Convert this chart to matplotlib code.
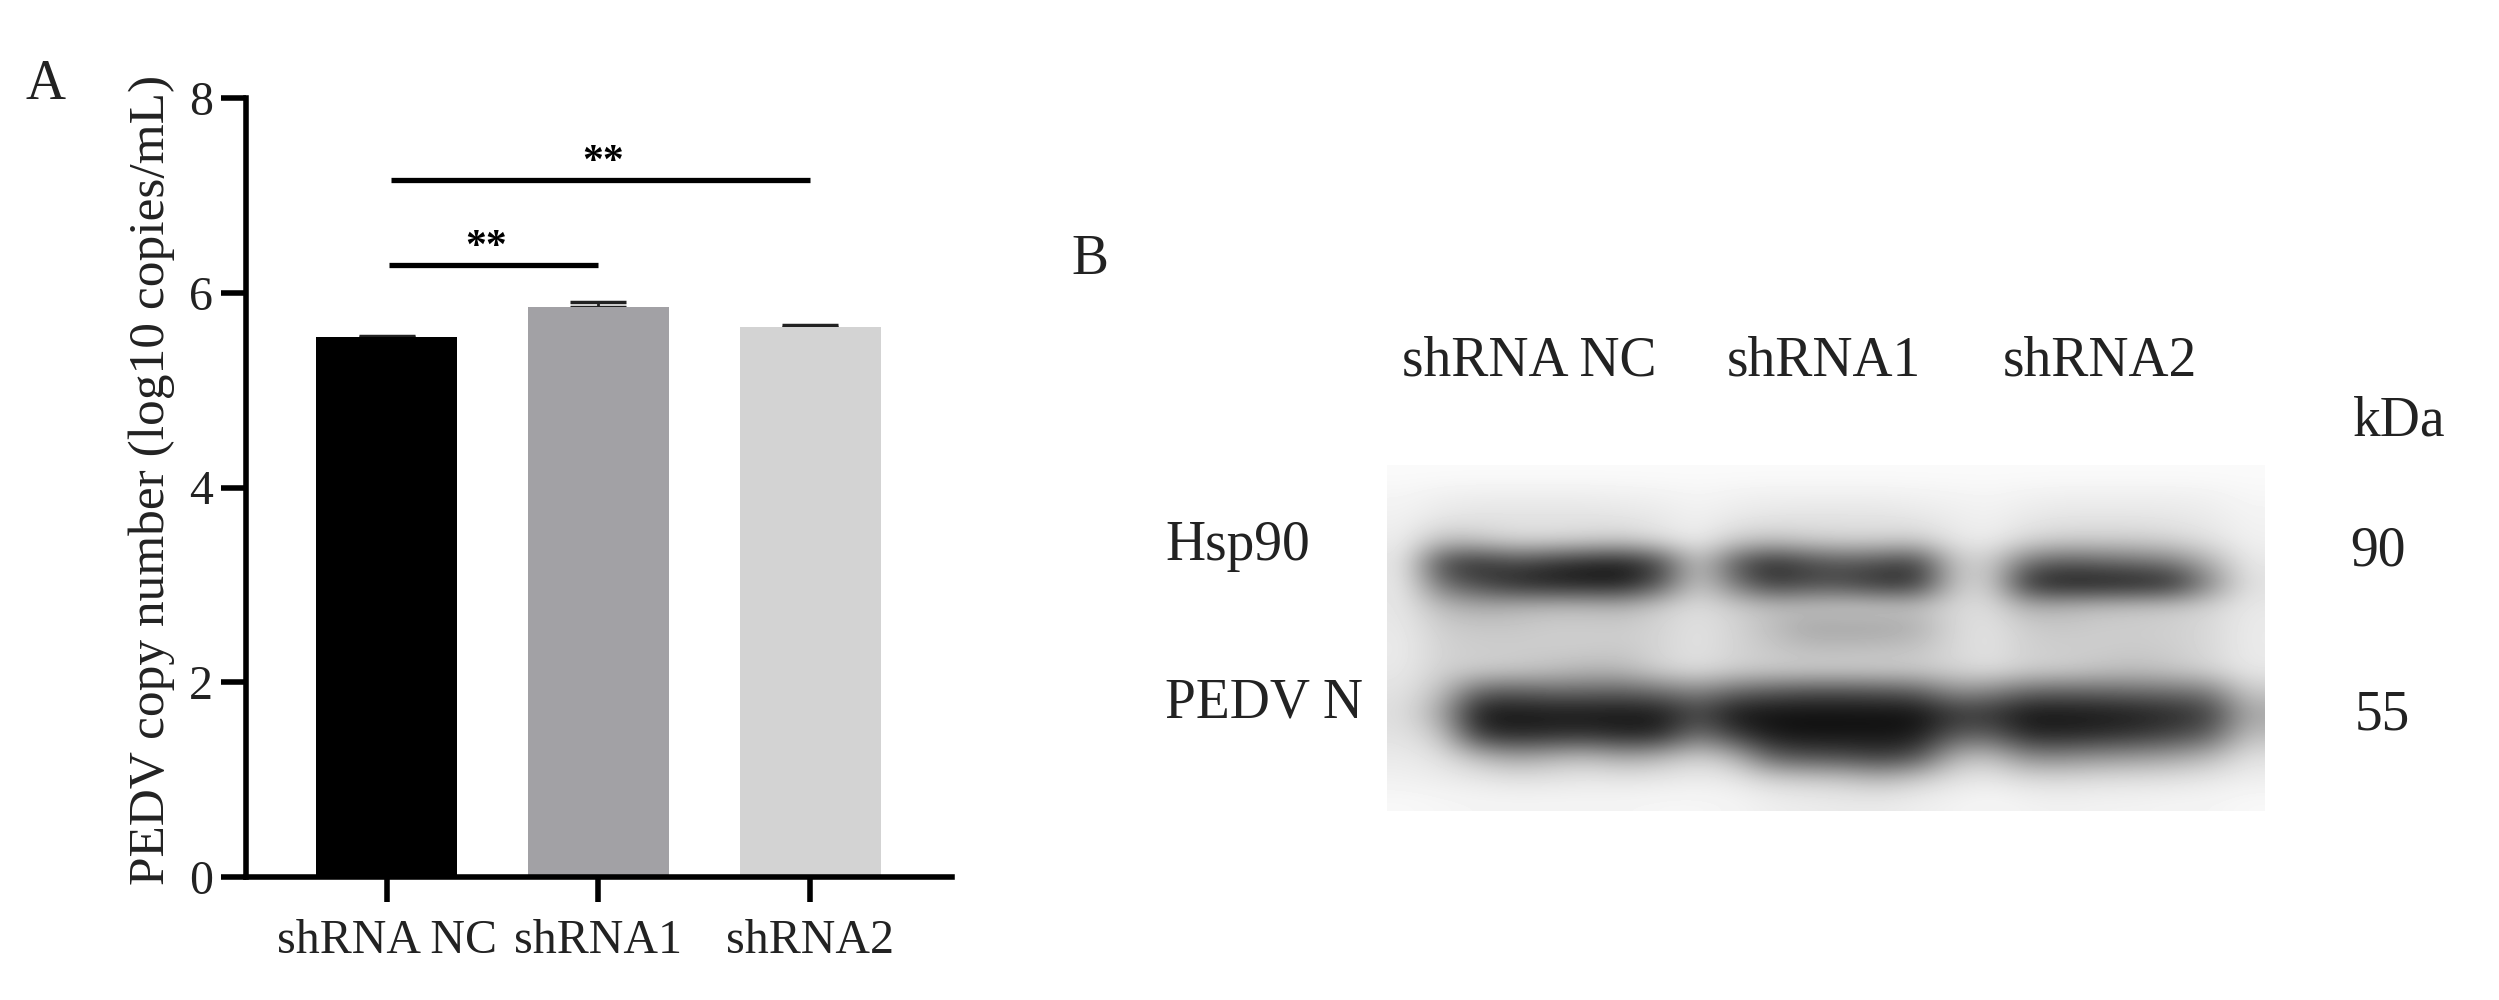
import matplotlib
matplotlib.use("Agg")
import matplotlib.pyplot as plt
import numpy as np

W, H = 2499, 1000

groups = ["shRNA NC", "shRNA1", "shRNA2"]
means = [5.55, 5.85, 5.65]
errs = [0.01, 0.06, 0.02]
colors = ["#000000", "#a2a1a5", "#d3d3d3"]
yticks = [0, 2, 4, 6, 8]
sig_levels = [6.28, 7.16]
sig_labels = ["**", "**"]
sig_spans = [(0.01, 1.0), (0.02, 2.0)]
sig_star_x = [0.47, 1.02]

lane_labels = ["shRNA NC", "shRNA1", "shRNA2"]
protein_labels = ["Hsp90", "PEDV N"]
kda_labels = ["kDa", "90", "55"]

# blot greyscale read by eye, coarse grid over the photo
blot = np.array([
    [250, 250, 250, 250, 250, 250, 250, 250, 250, 250, 250, 250, 250, 250, 250, 250, 250, 250, 250, 250, 250, 250, 250, 250],
    [244, 238, 236, 236, 236, 236, 238, 240, 244, 240, 238, 238, 238, 238, 240, 242, 244, 240, 238, 238, 238, 238, 240, 246],
    [240, 230, 226, 226, 226, 226, 228, 232, 240, 232, 228, 226, 226, 226, 230, 236, 240, 232, 228, 228, 228, 230, 234, 242],
    [236, 190, 200, 215, 215, 210, 205, 222, 236, 205, 195, 205, 210, 210, 205, 230, 236, 215, 205, 205, 205, 212, 225, 240],
    [230, 70, 45, 70, 50, 35, 28, 70, 200, 90, 40, 70, 85, 75, 60, 195, 205, 110, 90, 100, 110, 125, 175, 232],
    [232, 110, 70, 38, 28, 25, 25, 85, 205, 120, 55, 70, 70, 45, 50, 195, 210, 45, 22, 22, 25, 38, 135, 225],
    [230, 185, 170, 178, 185, 185, 180, 205, 222, 205, 190, 195, 200, 200, 195, 215, 222, 175, 180, 190, 195, 200, 212, 232],
    [232, 205, 200, 200, 205, 205, 205, 212, 226, 212, 190, 165, 165, 165, 175, 215, 226, 205, 200, 205, 205, 208, 216, 234],
    [234, 210, 205, 205, 205, 205, 202, 214, 226, 212, 200, 190, 190, 192, 196, 216, 226, 208, 205, 205, 202, 206, 216, 234],
    [232, 208, 205, 200, 192, 182, 185, 210, 222, 208, 205, 205, 205, 205, 205, 212, 222, 208, 205, 195, 190, 198, 212, 232],
    [226, 190, 95, 90, 100, 100, 95, 110, 130, 100, 85, 75, 75, 80, 90, 140, 130, 100, 95, 100, 105, 110, 120, 200],
    [222, 165, 22, 18, 22, 20, 20, 22, 70, 20, 15, 15, 15, 15, 15, 50, 50, 18, 20, 22, 28, 40, 60, 165],
    [226, 200, 55, 40, 45, 50, 35, 40, 120, 60, 25, 18, 20, 20, 25, 90, 95, 40, 38, 45, 55, 70, 95, 190],
    [234, 225, 190, 165, 180, 190, 170, 185, 210, 185, 95, 80, 75, 60, 80, 180, 195, 140, 140, 150, 155, 165, 185, 225],
    [240, 236, 232, 226, 228, 232, 230, 232, 236, 232, 212, 205, 200, 185, 205, 226, 232, 220, 218, 222, 224, 226, 232, 238],
    [248, 246, 244, 244, 244, 244, 244, 246, 246, 244, 238, 236, 234, 234, 238, 242, 246, 242, 240, 242, 242, 244, 244, 248],
])


def fx(x):
    return x / W


def fy(y):
    return 1 - y / H


plt.rcParams["font.family"] = ["Liberation Serif", "DejaVu Serif"]
ink = "#222222"

fig = plt.figure(figsize=(W / 100, H / 100), dpi=100)

# panel A
ax = fig.add_axes([fx(246), fy(877), fx(952 - 246), (877 - 98) / H])
x = np.arange(len(groups))
ax.bar(x, means, width=0.665, color=colors, zorder=2)
ax.errorbar(x, means, yerr=[[0, 0, 0], errs], fmt="none", ecolor="#222222",
            elinewidth=2, capsize=20, capthick=2.5, zorder=1)
for level, (x0, x1), star, sx in zip(sig_levels, sig_spans, sig_labels, sig_star_x):
    ax.plot([x0, x1], [level, level], color="black", lw=3.8, solid_capstyle="butt")
    ax.text(sx, level - 0.02, star, ha="center", va="bottom",
            fontsize=30, fontweight="bold", color="black", linespacing=1)
ax.set_xlim(-0.665, 2.67)
ax.set_ylim(0, 8)
ax.set_yticks(yticks)
ax.set_xticks(x)
ax.set_xticklabels(groups)
ax.tick_params(axis="both", width=4, length=18, labelsize=34.5, labelcolor=ink, pad=12)
ax.tick_params(axis="y", pad=6)
for side in ["top", "right"]:
    ax.spines[side].set_visible(False)
for side in ["left", "bottom"]:
    ax.spines[side].set_linewidth(4)
ax.set_ylabel("PEDV copy number (log10 copies/mL)", fontsize=37, color=ink, labelpad=10, y=0.51)

fig.text(fx(45), fy(85), "A", fontsize=40, color=ink, ha="center", va="center")

# panel B
ax2 = fig.add_axes([fx(1387), fy(811), fx(2265 - 1387), (811 - 465) / H])
ax2.imshow(blot, cmap="gray", vmin=0, vmax=255, aspect="auto", interpolation="bicubic")
ax2.axis("off")

fig.text(fx(1090), fy(260), "B", fontsize=40, color=ink, ha="center", va="center")
for label, px in zip(lane_labels, [1529, 1824, 2100]):
    fig.text(fx(px), fy(361), label, fontsize=40, color=ink, ha="center", va="center")
for label, py in zip(protein_labels, [546, 703]):
    fig.text(fx(1165), fy(py), label, fontsize=40, color=ink, ha="left", va="center")
for label, px, py in zip(kda_labels, [2399, 2378, 2382], [421, 552, 716]):
    fig.text(fx(px), fy(py), label, fontsize=40, color=ink, ha="center", va="center")

fig.savefig("out.png", dpi=100)
